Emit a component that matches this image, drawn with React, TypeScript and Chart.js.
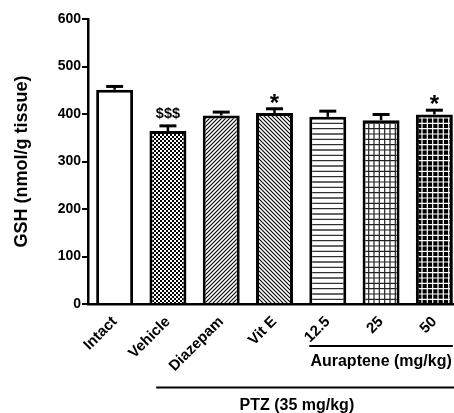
import React, { useEffect, useRef } from "react";
import { Chart, registerables } from "chart.js";

Chart.register(...registerables);

const categories = ["Intact", "Vehicle", "Diazepam", "Vit E", "12.5", "25", "50"];
const gshMeans = [451, 364, 397, 402, 394, 387, 399];
const gshSem = [7, 11, 7, 9, 12, 12, 9];
const markers = ["", "$$$", "", "*", "", "", "*"];
const patternKinds = ["white", "checker", "slash", "backslash", "hlines", "grid", "blackgrid"];
const yTicks = [0, 100, 200, 300, 400, 500, 600];
const yTitle = "GSH (nmol/g tissue)";
const subGroupLabel = "Auraptene (mg/kg)";
const groupLabel = "PTZ (35 mg/kg)";

const FONT = '"Liberation Sans", Arial, Helvetica, sans-serif';

function makePattern(kind: string): CanvasPattern | string {
  if (kind === "white") return "#ffffff";
  const c = document.createElement("canvas");
  const ctx = c.getContext("2d")!;
  if (kind === "checker") {
    c.width = 4; c.height = 4;
    ctx.fillStyle = "#fff"; ctx.fillRect(0, 0, 4, 4);
    ctx.fillStyle = "#000";
    ctx.fillRect(0, 0, 2, 2); ctx.fillRect(2, 2, 2, 2);
  } else if (kind === "slash" || kind === "backslash") {
    const s = 4;
    c.width = s; c.height = s;
    ctx.fillStyle = "#fff"; ctx.fillRect(0, 0, s, s);
    ctx.strokeStyle = "#000"; ctx.lineWidth = 1.1;
    ctx.beginPath();
    if (kind === "slash") {
      ctx.moveTo(-1, s + 1); ctx.lineTo(s + 1, -1);
      ctx.moveTo(-1, 1); ctx.lineTo(1, -1);
      ctx.moveTo(s - 1, s + 1); ctx.lineTo(s + 1, s - 1);
    } else {
      ctx.moveTo(-1, -1); ctx.lineTo(s + 1, s + 1);
      ctx.moveTo(s - 1, -1); ctx.lineTo(s + 1, 1);
      ctx.moveTo(-1, s - 1); ctx.lineTo(1, s + 1);
    }
    ctx.stroke();
  } else if (kind === "hlines") {
    c.width = 4; c.height = 16;
    ctx.fillStyle = "#fff"; ctx.fillRect(0, 0, 4, 16);
    ctx.strokeStyle = "#333"; ctx.lineWidth = 1.3;
    ctx.beginPath();
    [0.7, 6.0, 11.3].forEach((y) => { ctx.moveTo(0, y); ctx.lineTo(4, y); });
    ctx.stroke();
  } else if (kind === "grid" || kind === "blackgrid") {
    c.width = 16; c.height = 16;
    ctx.fillStyle = kind === "grid" ? "#fff" : "#000";
    ctx.fillRect(0, 0, 16, 16);
    ctx.strokeStyle = kind === "grid" ? "#222" : "#fff";
    ctx.lineWidth = 1.2;
    ctx.beginPath();
    [0.7, 6.0, 11.3].forEach((p) => {
      ctx.moveTo(0, p); ctx.lineTo(16, p);
      ctx.moveTo(p, 0); ctx.lineTo(p, 16);
    });
    ctx.stroke();
  }
  return ctx.createPattern(c, "repeat")!;
}

const errorBarPlugin = {
  id: "errorBars",
  afterDatasetsDraw(chart: any) {
    const ctx = chart.ctx;
    const meta = chart.getDatasetMeta(0);
    const yScale = chart.scales.y;
    ctx.save();
    ctx.strokeStyle = "#000";
    meta.data.forEach((bar: any, i: number) => {
      const yTop = yScale.getPixelForValue(gshMeans[i] + gshSem[i]);
      const yBar = yScale.getPixelForValue(gshMeans[i]);
      ctx.lineWidth = 2.5;
      ctx.beginPath();
      ctx.moveTo(bar.x, yBar);
      ctx.lineTo(bar.x, yTop);
      ctx.stroke();
      ctx.lineWidth = 3;
      ctx.beginPath();
      ctx.moveTo(bar.x - 8.5, yTop);
      ctx.lineTo(bar.x + 8.5, yTop);
      ctx.stroke();
      const m = markers[i];
      if (m) {
        ctx.fillStyle = "#000";
        ctx.textAlign = "center";
        ctx.textBaseline = "alphabetic";
        if (m === "*") {
          ctx.font = `bold 24px ${FONT}`;
          ctx.fillText(m, bar.x, yTop + 2);
        } else {
          ctx.font = `bold 14.5px ${FONT}`;
          ctx.fillText(m, bar.x, yTop - 8);
        }
      }
    });
    ctx.restore();
  },
  afterDraw(chart: any) {
    const ctx = chart.ctx;
    const meta = chart.getDatasetMeta(0);
    const xScale = chart.scales.x;
    ctx.save();
    ctx.strokeStyle = "#000";
    ctx.fillStyle = "#000";
    ctx.lineWidth = 2;
    const b4 = meta.data[4];
    const b6 = meta.data[6];
    const subL = b4.x - b4.width / 2;
    const subR = b6.x + b6.width / 2;
    ctx.beginPath();
    ctx.moveTo(subL, 346);
    ctx.lineTo(subR, 346);
    ctx.stroke();
    ctx.font = `bold 16px ${FONT}`;
    ctx.textAlign = "center";
    ctx.textBaseline = "middle";
    ctx.fillText(subGroupLabel, (subL + subR) / 2, 362);
    const gL = xScale.getPixelForValue(0.78);
    ctx.beginPath();
    ctx.moveTo(gL, 387.5);
    ctx.lineTo(chart.width, 387.5);
    ctx.stroke();
    ctx.fillText(groupLabel, xScale.getPixelForValue(3.42), 406);
    ctx.restore();
  },
};

export default function App() {
  const ref = useRef<HTMLCanvasElement | null>(null);
  useEffect(() => {
    if (!ref.current) return;
    Chart.defaults.font.family = FONT;
    const chart = new Chart(ref.current, {
      type: "bar",
      data: {
        labels: categories,
        datasets: [
          {
            data: gshMeans,
            backgroundColor: patternKinds.map(makePattern) as any,
            borderColor: "#000",
            borderWidth: 3,
            barPercentage: 0.694,
            categoryPercentage: 1,
          },
        ],
      },
      options: {
        animation: false,
        responsive: false,
        devicePixelRatio: 1,
        layout: { padding: { top: 19, right: 0, bottom: 0, left: 0 } },
        plugins: { legend: { display: false }, tooltip: { enabled: false } },
        scales: {
          x: {
            ticks: {
              color: "#000",
              font: { family: FONT, size: 15, weight: "bold" },
              maxRotation: 45,
              minRotation: 45,
              padding: 1,
              autoSkip: false,
            },
            grid: { display: false },
            border: { display: true, color: "#000", width: 2.5 },
            afterFit: (scale: any) => {
              scale.height = 109;
            },
          },
          y: {
            min: yTicks[0],
            max: yTicks[yTicks.length - 1],
            ticks: {
              stepSize: yTicks[1] - yTicks[0],
              color: "#000",
              font: { family: FONT, size: 14, weight: "bold" },
              padding: 1,
            },
            grid: {
              display: true,
              drawOnChartArea: false,
              drawTicks: true,
              tickLength: 6,
              color: "#000",
              lineWidth: 2,
            },
            border: { display: true, color: "#000", width: 2.5 },
            title: {
              display: true,
              text: yTitle,
              color: "#000",
              font: { family: FONT, size: 18, weight: "bold" },
              padding: { top: 11, bottom: 0 },
            },
            afterFit: (scale: any) => {
              scale.width = 88;
            },
          },
        },
      },
      plugins: [errorBarPlugin],
    });
    return () => chart.destroy();
  }, []);
  return (
    <div
      style={{
        position: "fixed",
        left: 0,
        top: 0,
        width: 454,
        height: 413,
        overflow: "hidden",
        background: "#fff",
      }}
    >
      <canvas ref={ref} width={461} height={413} style={{ display: "block" }} />
    </div>
  );
}
